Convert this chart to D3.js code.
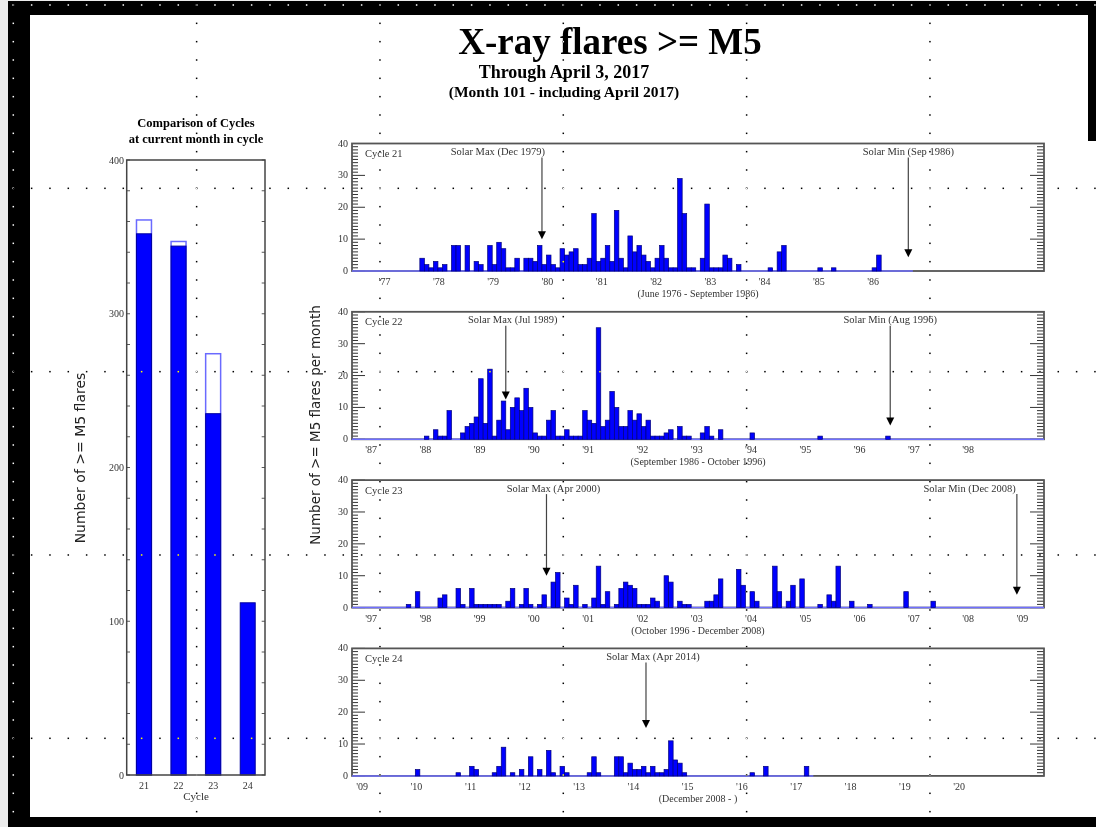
<!DOCTYPE html>
<meta charset="utf-8">
<script src="https://d3js.org/d3.v7.min.js"></script>
<html>
<body style="margin:0; background:#fff;">
<div id="chart"></div>
<script>
// ---- comparison of cycles (left chart) ----
var cycleNames = ["21", "22", "23", "24"];
var flaresAtMonth = [352, 344, 235, 112];     // at month 101 of each cycle
var flaresWholeCycle = [361, 347, 274, null];  // whole cycle (24 still running)

// ---- monthly counts of >= M5 flares, one row = 12 months from panel start ----
var c21Counts = [
  0,0,0,0,0,0,0,0,0,0,0,0,
  0,0,0,4,2,1,3,1,2,0,8,8,
  0,8,0,3,2,0,8,2,9,7,1,1,
  4,0,4,4,3,8,2,5,2,1,7,5,
  6,7,2,2,4,18,3,4,8,3,19,4,
  1,11,6,8,5,3,1,4,8,4,1,1,
  29,18,1,1,0,4,21,1,1,1,5,4,
  0,2,0,0,0,0,0,0,1,0,6,8,
  0,0,0,0,0,0,0,1,0,0,1,0,
  0,0,0,0,0,0,0,1,5,0,0,0,
  0,0,0,0
];
var c22Counts = [
  0,0,0,0,0,0,0,0,0,0,0,0,
  0,0,0,0,1,0,3,1,1,9,0,0,
  2,4,5,7,19,5,22,1,6,12,3,10,
  13,9,16,10,2,1,1,6,9,1,1,3,
  1,1,1,9,6,5,35,4,6,15,10,4,
  4,9,6,8,4,6,1,1,1,2,3,0,
  4,1,1,0,0,2,4,1,0,3,0,0,
  0,0,0,0,2,0,0,0,0,0,0,0,
  0,0,0,0,0,0,0,1,0,0,0,0,
  0,0,0,0,0,0,0,0,0,0,1,0,
  0,0,0,0,0,0,0,0,0,0,0,0,
  0,0,0,0,0,0,0,0,0,0,0,0,
  0,0,0,0,0,0,0,0,0
];
var c23Counts = [
  0,0,0,0,0,0,0,0,0,0,0,0,
  1,0,5,0,0,0,0,3,4,0,0,6,
  1,0,6,1,1,1,1,1,1,0,2,6,
  0,1,6,1,0,1,4,0,8,11,0,3,
  1,7,0,1,0,3,13,1,5,0,1,6,
  8,7,6,1,1,1,3,2,0,10,8,0,
  2,1,1,0,0,0,2,2,4,9,0,0,
  0,12,7,0,5,2,0,0,0,13,5,0,
  2,7,0,9,0,0,0,1,0,4,2,13,
  0,0,2,0,0,0,1,0,0,0,0,0,
  0,0,5,0,0,0,0,0,2,0,0,0,
  0,0,0,0,0,0,0,0,0,0,0,0,
  0,0,0,0,0,0,0,0,0
];
var c24Counts = [
  0,0,0,0,0,0,0,0,0,0,0,0,
  0,0,2,0,0,0,0,0,0,0,0,1,
  0,0,3,2,0,0,0,1,3,9,0,1,
  0,2,0,6,0,2,0,8,1,0,3,1,
  0,0,0,0,1,6,1,0,0,0,6,6,
  1,4,2,2,3,1,3,1,1,2,11,5,
  4,1,0,0,0,0,0,0,0,0,0,0,
  0,0,0,0,1,0,0,3,0,0,0,0,
  0,0,0,0,3,0
];

// first month of each panel's axis [year, month]
var c21Start = [1976, 6];
var c22Start = [1986, 9];
var c23Start = [1996, 9];
var c24Start = [2008, 11];

// year tick labels
var c21Years = [1977, 1978, 1979, 1980, 1981, 1982, 1983, 1984, 1985, 1986];
var c22Years = [1987, 1988, 1989, 1990, 1991, 1992, 1993, 1994, 1995, 1996, 1997, 1998];
var c23Years = [1997, 1998, 1999, 2000, 2001, 2002, 2003, 2004, 2005, 2006, 2007, 2008, 2009];
var c24Years = [2009, 2010, 2011, 2012, 2013, 2014, 2015, 2016, 2017, 2018, 2019, 2020];

var c21Range = "(June 1976 - September 1986)";
var c22Range = "(September 1986 - October 1996)";
var c23Range = "(October 1996 - December 2008)";
var c24Range = "(December 2008 - )";

// [label, month index, arrow tip value]
var c21Notes = [["Solar Max (Dec 1979)", 42, 10], ["Solar Min (Sep 1986)", 123, 4.3]];
var c22Notes = [["Solar Max (Jul 1989)", 34, 12.5], ["Solar Min (Aug 1996)", 119, 4.3]];
var c23Notes = [["Solar Max (Apr 2000)", 43, 10], ["Solar Min (Dec 2008)", 147, 4]];
var c24Notes = [["Solar Max (Apr 2014)", 65, 15]];

var panels = [
  {name: "Cycle 21", counts: c21Counts, start: c21Start, years: c21Years, range: c21Range, notes: c21Notes},
  {name: "Cycle 22", counts: c22Counts, start: c22Start, years: c22Years, range: c22Range, notes: c22Notes},
  {name: "Cycle 23", counts: c23Counts, start: c23Start, years: c23Years, range: c23Range, notes: c23Notes},
  {name: "Cycle 24", counts: c24Counts, start: c24Start, years: c24Years, range: c24Range, notes: c24Notes}
];
// how each note label sits against its arrow
var noteAlign = [[["end", 3], ["middle", 0]], [["middle", 7], ["middle", 0]], [["middle", 7], ["end", -1]], [["middle", 7]]];

var serif = "'Liberation Serif', 'Times New Roman', serif";
var sans = "'DejaVu Sans', Verdana, sans-serif";
var W = 1096, H = 827;

var svg = d3.select("#chart").append("svg")
    .attr("width", W)
    .attr("height", H)
    .style("display", "block");

// black window frame round the picture
svg.append("rect").attr("width", W).attr("height", H).attr("fill", "#ececec");
svg.append("rect").attr("x", 8).attr("y", 1).attr("width", W - 8).attr("height", H - 1).attr("fill", "#000");
svg.append("rect").attr("x", 30).attr("y", 15).attr("width", W - 30).attr("height", 802).attr("fill", "#fff");
svg.append("rect").attr("x", 1088).attr("y", 1).attr("width", 8).attr("height", 140).attr("fill", "#000");

// titles
svg.append("text").attr("x", 610).attr("y", 54).attr("text-anchor", "middle")
    .style("font", "bold 37px " + serif).text("X-ray flares >= M5");
svg.append("text").attr("x", 564).attr("y", 78).attr("text-anchor", "middle")
    .style("font", "bold 18px " + serif).text("Through April 3, 2017");
svg.append("text").attr("x", 564).attr("y", 97).attr("text-anchor", "middle")
    .style("font", "bold 15.5px " + serif).text("(Month 101 - including April 2017)");

// ---------- left: comparison of cycles ----------
var bx = d3.scaleBand().domain(cycleNames).range([126.7, 265]).paddingInner(0.567).paddingOuter(0.283);
var by = d3.scaleLinear().domain([0, 400]).range([775, 160]);
var lg = svg.append("g");

lg.append("text").attr("x", 196).attr("y", 127).attr("text-anchor", "middle")
    .style("font", "bold 12.5px " + serif).text("Comparison of Cycles");
lg.append("text").attr("x", 196).attr("y", 143).attr("text-anchor", "middle")
    .style("font", "bold 12.5px " + serif).text("at current month in cycle");

// minor ticks on both sides
var bTicks = d3.range(0, 401, 20);
lg.selectAll(".tkl").data(bTicks).enter().append("line")
    .attr("x1", 126.7).attr("x2", 130).attr("y1", by).attr("y2", by)
    .attr("stroke", "#444").attr("stroke-width", 0.9);
lg.selectAll(".tkr").data(bTicks).enter().append("line")
    .attr("x1", 261.7).attr("x2", 265).attr("y1", by).attr("y2", by)
    .attr("stroke", "#444").attr("stroke-width", 0.9);
lg.selectAll(".lab").data([0, 100, 200, 300, 400]).enter().append("text")
    .attr("x", 124).attr("y", function(d) { return by(d) + 3.5; })
    .attr("text-anchor", "end").attr("fill", "#333")
    .style("font", "10px " + serif).text(function(d) { return d; });

// whole-cycle outline, then count so far
lg.selectAll(".whole").data(cycleNames.filter(function(c, i) { return flaresWholeCycle[i] != null; }))
  .enter().append("rect")
    .attr("x", function(d) { return bx(d); })
    .attr("width", bx.bandwidth())
    .attr("y", function(d) { return by(flaresWholeCycle[cycleNames.indexOf(d)]); })
    .attr("height", function(d) { return by(0) - by(flaresWholeCycle[cycleNames.indexOf(d)]); })
    .attr("fill", "#fff").attr("stroke", "#6a6aff").attr("stroke-width", 1.5);
lg.selectAll(".now").data(cycleNames).enter().append("rect")
    .attr("x", function(d) { return bx(d); })
    .attr("width", bx.bandwidth())
    .attr("y", function(d, i) { return by(flaresAtMonth[i]); })
    .attr("height", function(d, i) { return by(0) - by(flaresAtMonth[i]); })
    .attr("fill", "#0000ff").attr("stroke", "#0000a0").attr("stroke-width", 1);

lg.append("rect").attr("x", 126.7).attr("y", 160).attr("width", 138.3).attr("height", 615)
    .attr("fill", "none").attr("stroke", "#444").attr("stroke-width", 1.5);

lg.selectAll(".xl").data(cycleNames).enter().append("text")
    .attr("x", function(d) { return bx(d) + bx.bandwidth() / 2; }).attr("y", 789)
    .attr("text-anchor", "middle").attr("fill", "#333")
    .style("font", "10px " + serif).text(function(d) { return d; });
lg.append("text").attr("x", 196).attr("y", 800).attr("text-anchor", "middle").attr("fill", "#333")
    .style("font", "11px " + serif).text("Cycle");
lg.append("text").attr("transform", "translate(85,458) rotate(-90)").attr("text-anchor", "middle")
    .attr("fill", "#222").style("font", "14px " + sans).text("Number of >= M5 flares");

// ---------- right: monthly panels ----------
var px = d3.scaleLinear().domain([0, 153]).range([352, 1044]);

svg.append("text").attr("transform", "translate(320,425) rotate(-90)").attr("text-anchor", "middle")
    .attr("fill", "#222").style("font", "13.5px " + sans).text("Number of >= M5 flares per month");

panels.forEach(function(p, i) {
  var top = 143.5 + i * 168.3, bottom = top + 127.5;
  var py = d3.scaleLinear().domain([0, 40]).range([bottom, top]);
  var g = svg.append("g");

  // comb ticks on both y axes
  var vals = d3.range(0, 41);
  g.selectAll(".cl").data(vals).enter().append("line")
      .attr("x1", px(0)).attr("x2", function(d) { return px(0) + (d % 10 == 0 ? 13 : 6); })
      .attr("y1", py).attr("y2", py).attr("stroke", "#333").attr("stroke-width", 1);
  g.selectAll(".cr").data(vals).enter().append("line")
      .attr("x1", function(d) { return px(153) - (d % 10 == 0 ? 14 : 7); }).attr("x2", px(153))
      .attr("y1", py).attr("y2", py).attr("stroke", "#333").attr("stroke-width", 1);

  g.append("rect").attr("x", px(0)).attr("y", top).attr("width", px(153) - px(0)).attr("height", bottom - top)
      .attr("fill", "none").attr("stroke", "#555").attr("stroke-width", 1.8);

  g.selectAll(".yl").data([0, 10, 20, 30, 40]).enter().append("text")
      .attr("x", 348).attr("y", function(d) { return py(d) + 3; })
      .attr("text-anchor", "end").attr("fill", "#333")
      .style("font", "10px " + serif).text(function(d) { return d; });

  // zero line over the months covered
  g.append("line").attr("x1", px(0)).attr("x2", px(p.counts.length))
      .attr("y1", py(0)).attr("y2", py(0)).attr("stroke", "#6f6fff").attr("stroke-width", 1.5);

  var months = p.counts.map(function(v, m) { return {m: m, v: v}; })
      .filter(function(d) { return d.v > 0; });
  g.selectAll(".bar").data(months).enter().append("rect")
      .attr("x", function(d) { return px(d.m); })
      .attr("width", px(1) - px(0))
      .attr("y", function(d) { return py(d.v); })
      .attr("height", function(d) { return py(0) - py(d.v); })
      .attr("fill", "#0000ff").attr("stroke", "#00007a").attr("stroke-width", 0.7);

  // year labels
  g.selectAll(".yr").data(p.years).enter().append("text")
      .attr("x", function(y) { return px((y - p.start[0]) * 12 + 1 - p.start[1]) + 1; })
      .attr("y", bottom + 14).attr("text-anchor", "middle").attr("fill", "#333")
      .style("font", "10px " + serif)
      .text(function(y) { return "'" + String(y).slice(2); });

  g.append("text").attr("x", 698).attr("y", bottom + 26).attr("text-anchor", "middle").attr("fill", "#333")
      .style("font", "10px " + serif).text(p.range);
  g.append("text").attr("x", 365).attr("y", top + 13.5).attr("fill", "#333")
      .style("font", "10.5px " + serif).text(p.name);

  // solar max / min arrows
  p.notes.forEach(function(n, k) {
    var ax = px(n[1]), tip = py(n[2]);
    var al = noteAlign[i][k];
    g.append("text").attr("x", ax + al[1]).attr("y", top + 11.5).attr("text-anchor", al[0])
        .attr("fill", "#333").style("font", "10.5px " + serif).text(n[0]);
    g.append("line").attr("x1", ax).attr("x2", ax).attr("y1", top + 14).attr("y2", tip - 6)
        .attr("stroke", "#444").attr("stroke-width", 1.2);
    g.append("path").attr("d", "M" + (ax - 4) + "," + (tip - 8) + "L" + (ax + 4) + "," + (tip - 8) + "L" + ax + "," + tip + "Z")
        .attr("fill", "#000");
  });
});

// dotted grid of the original screen capture
var dots = [];
for (var i = 0; i < 6; i++) for (var k = 0; k < 46; k++) dots.push([13.3 + 183.33 * i, 5 + 18.333 * k]);
for (var j = 0; j < 5; j++) for (var k = 0; k < 60; k++) dots.push([13.3 + 18.333 * k, 5 + 183.33 * j]);
svg.append("g").selectAll("rect").data(dots).enter().append("rect")
    .attr("x", function(d) { return d[0] - 0.75; })
    .attr("y", function(d) { return d[1] - 0.75; })
    .attr("width", 1.5).attr("height", 1.5)
    .attr("fill", "#fff")
    .style("mix-blend-mode", "difference");
</script>
</body>
</html>
